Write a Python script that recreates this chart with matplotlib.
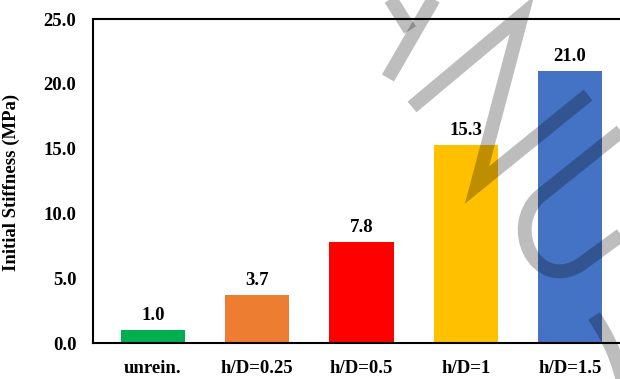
import matplotlib
matplotlib.use("Agg")
import matplotlib.pyplot as plt
from matplotlib.lines import Line2D
from matplotlib.path import Path
from matplotlib.patches import PathPatch
from matplotlib.transforms import Affine2D

# Data
categories = ["unrein.", "h/D=0.25", "h/D=0.5", "h/D=1", "h/D=1.5"]
stiffness = [1.0, 3.7, 7.8, 15.3, 21.0]
bar_colors = ["#00B050", "#ED7D31", "#FF0000", "#FFC000", "#4472C4"]
y_ticks = [0.0, 5.0, 10.0, 15.0, 20.0, 25.0]

plt.rcParams["font.family"] = ["Liberation Serif", "DejaVu Serif"]
plt.rcParams["font.weight"] = "bold"

W, H = 620, 379
fig = plt.figure(figsize=(W / 100, H / 100), dpi=100)
ax = fig.add_axes([93 / W, 36 / H, 537 / W, 324 / H])

x = list(range(len(categories)))
ax.bar(x, stiffness, width=0.614, color=bar_colors, zorder=2)

for xi, v in zip(x, stiffness):
    ax.annotate(f"{v:.1f}", (xi, v), xytext=(0, 4), textcoords="offset points",
                ha="center", va="bottom", fontsize=13.5, fontweight="bold")

ax.set_xlim(-0.575, 4.575)
ax.set_ylim(0, 25)
ax.set_yticks(y_ticks)
ax.set_yticklabels([f"{t:.1f}" for t in y_ticks])
ax.set_xticks(x)
ax.set_xticklabels(categories)
ax.tick_params(axis="x", length=0, pad=12, labelsize=13.5)
ax.tick_params(axis="y", length=0, pad=12, labelsize=13.5)
for lbl in ax.get_xticklabels() + ax.get_yticklabels():
    lbl.set_fontweight("bold")

ax.set_ylabel("Initial Stiffness (MPa)", fontsize=13.5, fontweight="bold")
ax.yaxis.set_label_coords(20 / W, 1 - 182 / H, transform=fig.transFigure)

for side in ["left", "top", "bottom"]:
    ax.spines[side].set_linewidth(1.5)
    ax.spines[side].set_color("black")
ax.spines["right"].set_visible(False)

# Translucent watermark strokes, given in pixel coordinates from the top-left
px = Affine2D().scale(1 / W, -1 / H).translate(0, 1) + fig.transFigure
wm = dict(color="black", alpha=0.26, linewidth=10, solid_capstyle="butt",
          solid_joinstyle="miter", transform=px, zorder=10)
strokes = [
    [(388, -5), (410, 30)],
    [(436, -5), (388, 78)],
    [(412, 107), (522, 15), (477, 185), (588, 95)],
]
for s in strokes:
    xs, ys = zip(*s)
    fig.add_artist(Line2D(xs, ys, **wm))

arc = Path([(625, 128), (540, 196), (505, 226), (535, 292), (580, 265), (625, 232)],
           [Path.MOVETO, Path.LINETO, Path.CURVE4, Path.CURVE4, Path.CURVE4, Path.LINETO])
tail = Path([(594, 316), (610, 340), (618, 360), (624, 385)],
            [Path.MOVETO, Path.CURVE4, Path.CURVE4, Path.CURVE4])
for p in (arc, tail):
    fig.add_artist(PathPatch(p, fill=False, edgecolor="black", alpha=0.26,
                             linewidth=10, capstyle="butt", transform=px, zorder=10))

fig.savefig("out.png", dpi=100)
